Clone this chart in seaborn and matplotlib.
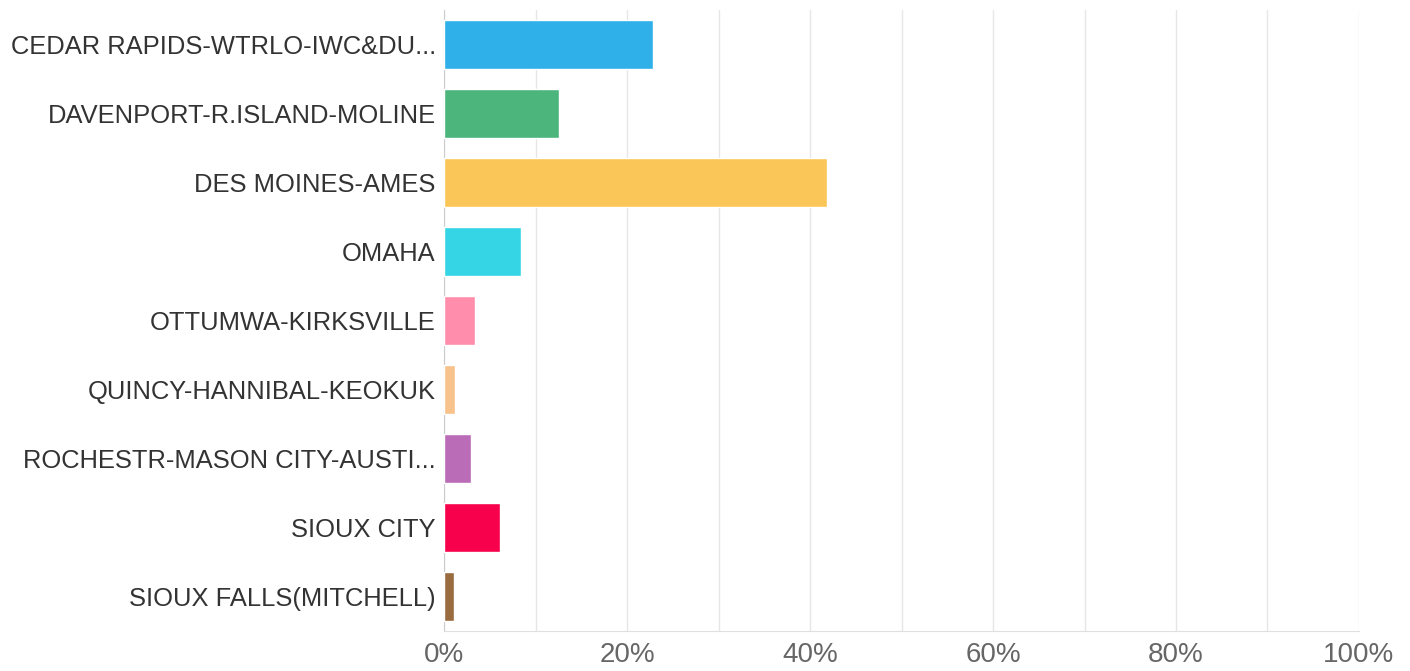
import numpy as np
import pandas as pd
import matplotlib
matplotlib.use('Agg')
import matplotlib.pyplot as plt
import seaborn as sns
from matplotlib.ticker import MultipleLocator, FuncFormatter

markets = [
    'CEDAR RAPIDS-WTRLO-IWC&DU...',
    'DAVENPORT-R.ISLAND-MOLINE',
    'DES MOINES-AMES',
    'OMAHA',
    'OTTUMWA-KIRKSVILLE',
    'QUINCY-HANNIBAL-KEOKUK',
    'ROCHESTR-MASON CITY-AUSTI...',
    'SIOUX CITY',
    'SIOUX FALLS(MITCHELL)',
]
share = [22.8, 12.5, 41.8, 8.4, 3.35, 1.15, 2.9, 6.15, 1.05]
colors = ['#2FB0E8', '#4CB57C', '#FBC658', '#36D5E5', '#FF8DAB',
          '#F8C28C', '#BA6CB6', '#F7004C', '#9B6B40']

df = pd.DataFrame({'market': markets, 'share': share})

sns.set_style('white')
plt.rcParams['font.family'] = ['Liberation Sans', 'DejaVu Sans']

fig = plt.figure(figsize=(14.10, 6.71), dpi=100)
ax = fig.add_axes([0.315, 0.0596, 0.6488, 0.9255])

sns.barplot(data=df, x='share', y='market', hue='market', palette=colors,
            legend=False, width=0.716, saturation=1, ax=ax, zorder=3)

ax.set_xlim(0, 100)
ax.set_ylim(len(markets) - 0.5, -0.5)
ax.xaxis.set_major_locator(MultipleLocator(20))
ax.xaxis.set_minor_locator(MultipleLocator(10))
ax.xaxis.set_major_formatter(FuncFormatter(lambda v, _: f'{v:.0f}%'))
ax.grid(axis='x', which='both', color='#e6e6e6', linewidth=1, zorder=0)
ax.set_axisbelow(True)

for side in ['top', 'right']:
    ax.spines[side].set_visible(False)
ax.spines['left'].set_color('#cccccc')
ax.spines['bottom'].set_color('#e0e0e0')

ax.tick_params(axis='y', length=0, pad=6, labelsize=18.4, labelcolor='#333333')
ax.tick_params(axis='x', which='both', length=0, pad=8, labelsize=20, labelcolor='#666666')
ax.set_xlabel('')
ax.set_ylabel('')

fig.savefig('out.png', dpi=100)
